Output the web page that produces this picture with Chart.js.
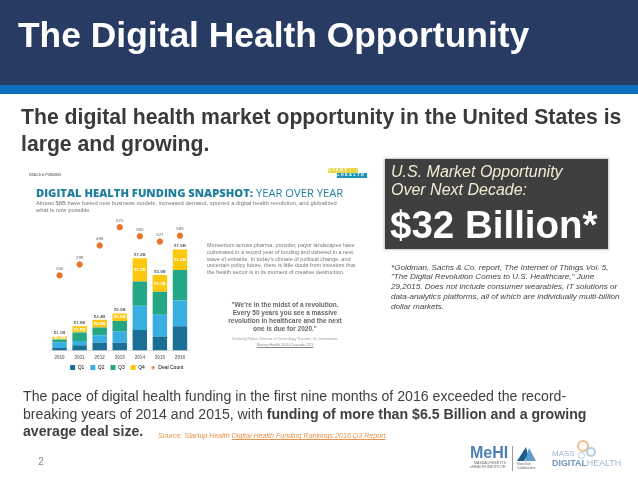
<!DOCTYPE html>
<html>
<head>
<meta charset="utf-8">
<script src="https://cdn.jsdelivr.net/npm/chart.js@4"></script>
<style>
  html, body { margin: 0; padding: 0; background: #fff; }
  body { width: 638px; height: 479px; position: relative; overflow: hidden; font-family: "Liberation Sans", sans-serif; }
  .t { position: absolute; white-space: nowrap; line-height: 1; filter: blur(0.25px); }
  #inset { position: absolute; left: 0; top: 0; width: 638px; height: 479px; filter: blur(0.55px); }
  #statsChart { position: absolute; left: 20px; top: 200px; }
  #logos { position: absolute; left: 0; top: 0; width: 638px; height: 479px; filter: blur(0.3px); }
</style>
</head>
<body>
<div style="position:absolute;left:0;top:0;width:638px;height:85px;background:#283c63"></div>
<div style="position:absolute;left:0;top:85px;width:638px;height:9px;background:#0a70c0"></div>
<div class="t" style="left:18px;top:18px;font-size:35.4px;font-weight:bold;color:#fff">The Digital Health Opportunity</div>
<div class="t" style="left:21px;top:106px;font-size:21.2px;font-weight:bold;color:#3a3a3a">The digital health market opportunity in the United States is</div>
<div class="t" style="left:21px;top:133px;font-size:21.2px;font-weight:bold;color:#3a3a3a">large and growing.</div>

<div id="inset">
  <div class="t" style="left:29px;top:174px;font-size:3.5px;font-weight:bold;color:#777">DEALS &amp; FUNDING</div>
  <div class="t" style="left:36px;top:187px;font-size:11.2px;font-family:'Open Sans',sans-serif;font-weight:800;color:#1f7f9e">DIGITAL HEALTH FUNDING SNAPSHOT: <span style="font-weight:400">YEAR OVER YEAR</span></div>
  <div class="t" style="left:36px;top:201px;font-size:5.85px;color:#777">Almost $8B have fueled new business models, increased demand, spurred a digital health revolution, and globalized</div>
  <div class="t" style="left:36px;top:208px;font-size:5.85px;color:#777">what is now possible.</div>

  <div class="t" style="left:207px;top:243px;font-size:5.5px;color:#777">Momentum across pharma, provider, payor landscapes have</div>
  <div class="t" style="left:207px;top:250px;font-size:5.5px;color:#777">culminated in a record year of funding and ushered in a new</div>
  <div class="t" style="left:207px;top:256.5px;font-size:5.5px;color:#777">wave of entrants. In today's climate of political change, and</div>
  <div class="t" style="left:207px;top:263px;font-size:5.5px;color:#777">uncertain policy future, there is little doubt from investors that</div>
  <div class="t" style="left:207px;top:270px;font-size:5.5px;color:#777">the health sector is in its moment of creative destruction.</div>

  <div class="t" style="left:285px;top:302px;transform:translateX(-50%);font-size:6.5px;font-weight:bold;color:#666">"We're in the midst of a revolution.</div>
  <div class="t" style="left:285px;top:310px;transform:translateX(-50%);font-size:6.5px;font-weight:bold;color:#666">Every 50 years you see a massive</div>
  <div class="t" style="left:285px;top:318px;transform:translateX(-50%);font-size:6.5px;font-weight:bold;color:#666">revolution in healthcare and the next</div>
  <div class="t" style="left:285px;top:326px;transform:translateX(-50%);font-size:6.5px;font-weight:bold;color:#666">one is due for 2020."</div>
  <div class="t" style="left:285px;top:338px;transform:translateX(-50%);font-size:3.7px;color:#999">Kimberly Police, Director of Technology Transfer, UC Innovations</div>
  <div class="t" style="left:285px;top:344px;transform:translateX(-50%);font-size:3.7px;color:#888;text-decoration:underline">Startup Health 2020 Cascade 2/21</div>

  <div class="t" style="left:328px;top:168px;width:30px;height:5px;background:#e6d84a;font-size:4px;font-weight:bold;letter-spacing:1.4px;color:#fff">START</div>
  <div class="t" style="left:337px;top:173px;width:30px;height:5px;background:#1c93b8;font-size:4px;font-weight:bold;letter-spacing:1.4px;color:#fff">+HEALTH</div>

  <canvas id="statsChart" width="180" height="185"></canvas>
</div>

<div style="position:absolute;left:385px;top:159px;width:223px;height:90px;background:#3f3f3f;box-shadow:0 0 2px 1px #c4c4c4"></div>
<div class="t" style="left:391px;top:164px;font-size:16px;font-style:italic;color:#f0ecd2">U.S. Market Opportunity</div>
<div class="t" style="left:391px;top:182px;font-size:16px;font-style:italic;color:#f0ecd2">Over Next Decade:</div>
<div class="t" style="left:390px;top:206px;font-size:38.5px;font-weight:bold;color:#fff">$32 Billion*</div>

<div class="t" style="left:391px;top:264px;font-size:8.1px;font-style:italic;color:#444">*Goldman, Sachs &amp; Co. report, The Internet of Things Vol. 5,</div>
<div class="t" style="left:391px;top:273px;font-size:8.1px;font-style:italic;color:#444">"The Digital Revolution Comes to U.S. Healthcare," June</div>
<div class="t" style="left:391px;top:283px;font-size:8.1px;font-style:italic;color:#444">29,2015. Does not include consumer wearables, IT solutions or</div>
<div class="t" style="left:391px;top:293px;font-size:8.1px;font-style:italic;color:#444">data-analytics platforms, all of which are individually multi-billion</div>
<div class="t" style="left:391px;top:303px;font-size:8.1px;font-style:italic;color:#444">dollar markets.</div>

<div class="t" style="left:23px;top:389px;font-size:14.15px;color:#3f3f3f">The pace of digital health funding in the first nine months of 2016 exceeded the record-</div>
<div class="t" style="left:23px;top:407px;font-size:14.15px;color:#3f3f3f">breaking years of 2014 and 2015, with <b>funding of more than $6.5 Billion and a growing</b></div>
<div class="t" style="left:23px;top:424px;font-size:14.15px;font-weight:bold;color:#3f3f3f">average deal size.</div>
<div class="t" style="left:158px;top:433px;font-size:7.1px;font-style:italic;color:#e8924a">Source: Startup Health <u>Digital Health Funding Rankings 2016 Q3 Report</u></div>
<div class="t" style="left:38px;top:456px;font-size:10.5px;color:#888">2</div>

<div id="logos">
  <div class="t" style="left:470px;top:445px;font-size:16px;font-weight:bold;color:#4a7fb5">MeHI</div>
  <div class="t" style="left:474px;top:461.5px;font-size:3.6px;color:#666">MASSACHUSETTS</div>
  <div class="t" style="left:470px;top:466px;font-size:3.6px;color:#666">eHEALTH INSTITUTE</div>
  <div style="position:absolute;left:512px;top:446px;width:1px;height:25px;background:#999"></div>
  <svg style="position:absolute;left:517px;top:447px" width="20" height="15">
    <polygon points="0,14 9,0 11,8 7,14" fill="#1d5e8e"/>
    <polygon points="8,14 12,1 19,14" fill="#5d9ccb"/>
  </svg>
  <div class="t" style="left:517px;top:463px;font-size:3.2px;color:#666">MassTech</div>
  <div class="t" style="left:517px;top:467px;font-size:3.2px;color:#666">Collaborative</div>
  <div style="position:absolute;left:577px;top:440px;width:8px;height:8px;border:2px solid #eebd8e;border-radius:50%"></div>
  <div style="position:absolute;left:586px;top:447px;width:6px;height:6px;border:2px solid #b6cde0;border-radius:50%"></div>
  <div style="position:absolute;left:578px;top:452px;width:5px;height:5px;border:1.5px solid #b6cde0;border-radius:50%"></div>
  <div class="t" style="left:552px;top:450px;font-size:8px;color:#9db8d0">MASS</div>
  <div class="t" style="left:552px;top:459px;font-size:8.9px;color:#9db8d0"><b style="color:#6e96bc">DIGITAL</b>HEALTH</div>
</div>

<script>
const years = ["2010", "2011", "2012", "2013", "2014", "2015", "2016"];
const q1 = [0.2, 0.4, 0.6, 0.6, 1.6, 1.1, 1.9];
const q2 = [0.45, 0.35, 0.6, 0.9, 1.9, 1.7, 2.0];
const q3 = [0.2, 0.65, 0.6, 0.8, 1.9, 1.8, 2.4];
const q4 = [0.25, 0.5, 0.6, 0.6, 1.8, 1.3, 1.6];
const totalLabels = ["$1.1B", "$1.9B", "$2.4B", "$2.9B", "$7.2B", "$5.9B", "$7.9B"];
const q4Labels = ["$0.3B", "$0.5B", "$0.6B", "$0.6B", "$1.7B", "$1.3B", "$1.6B"];
const dealCount = [190, 299, 488, 670, 580, 527, 585];

// 凡例の小さい丸
const legendDot = document.createElement("canvas");
legendDot.width = 4;
legendDot.height = 4;
const dotCtx = legendDot.getContext("2d");
dotCtx.fillStyle = "#e8742a";
dotCtx.arc(2, 2, 1.6, 0, Math.PI * 2);
dotCtx.fill();

// 棒の上の金額と点の上の件数を描く
const valueLabels = {
  id: "valueLabels",
  afterLayout(chart) {
    // 凡例を元の図の位置まで寄せる
    chart.legend.left += 7;
    chart.legend.right += 7;
    chart.legend.top -= 5;
    chart.legend.bottom -= 5;
  },
  afterDatasetsDraw(chart) {
    const ctx = chart.ctx;
    ctx.save();
    ctx.textAlign = "center";
    ctx.textBaseline = "middle";

    const q4Meta = chart.getDatasetMeta(3);
    q4Meta.data.forEach((bar, i) => {
      ctx.font = "bold 4.4px 'Liberation Sans'";
      ctx.fillStyle = "#666";
      ctx.fillText(totalLabels[i], bar.x, bar.y - 3.2);
      ctx.fillStyle = "#fff";
      ctx.fillText(q4Labels[i], bar.x, (bar.y + bar.base) / 2);
    });

    const dealMeta = chart.getDatasetMeta(4);
    dealMeta.data.forEach((pt, i) => {
      ctx.font = "4.4px 'Liberation Sans'";
      ctx.fillStyle = "#666";
      ctx.fillText(dealCount[i], pt.x, pt.y - 6.5);
    });
    ctx.restore();
  }
};

const barSet = (label, data, color) => ({
  label, data, backgroundColor: color, stack: "funding",
  categoryPercentage: 1, barPercentage: 0.72, order: 2
});

new Chart(document.getElementById("statsChart"), {
  data: {
    labels: years,
    datasets: [
      { type: "bar", ...barSet("Q1", q1, "#1b6f96") },
      { type: "bar", ...barSet("Q2", q2, "#38afe0") },
      { type: "bar", ...barSet("Q3", q3, "#23a784") },
      { type: "bar", ...barSet("Q4", q4, "#fdc70f") },
      {
        type: "line", label: "Deal Count", data: dealCount, yAxisID: "y2",
        showLine: false, pointRadius: 2.7, pointStyle: "circle",
        backgroundColor: "#e8742a", borderColor: "#e8742a", order: 1
      }
    ]
  },
  options: {
    responsive: false,
    animation: false,
    layout: { padding: { left: 29.5, right: 10, top: 9.75, bottom: 0 } },
    plugins: {
      tooltip: { enabled: false },
      legend: {
        position: "bottom",
        labels: {
          usePointStyle: true,
          boxWidth: 5,
          boxHeight: 5,
          padding: 6,
          color: "#666",
          font: { size: 5 },
          generateLabels(chart) {
            return chart.data.datasets.map((d, i) => ({
              text: d.label,
              fillStyle: d.backgroundColor,
              strokeStyle: d.backgroundColor,
              lineWidth: 0,
              pointStyle: i === 4 ? legendDot : "rect",
              datasetIndex: i
            }));
          }
        }
      }
    },
    scales: {
      x: {
        stacked: true,
        offset: true,
        grid: { display: false, drawTicks: false },
        border: { color: "#ccc", width: 0.6 },
        ticks: { color: "#777", font: { size: 4.6, weight: "bold" }, padding: 4 }
      },
      y: { stacked: true, min: 0, max: 11, display: false },
      y2: { min: -558, max: 844, display: false }
    }
  },
  plugins: [valueLabels]
});
</script>
</body>
</html>
